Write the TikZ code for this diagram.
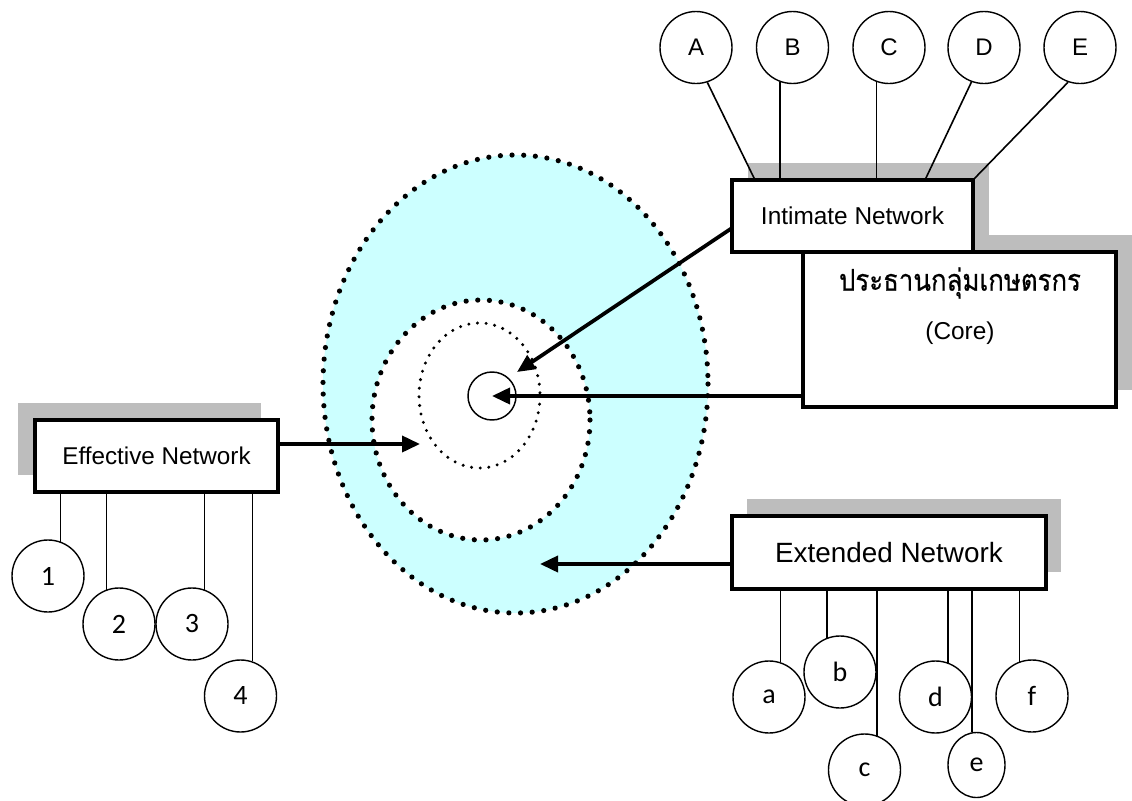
\documentclass[tikz,border=0pt]{standalone}
\usepackage{fontspec}
\setmainfont{Liberation Sans}
\newfontfamily\thaifont[Script=Thai, FakeStretch=0.86, FakeBold=0.5]{Loma}
\newfontfamily\calfont{Carlito}
\usetikzlibrary{calc,arrows.meta,shapes.geometric,backgrounds}
\definecolor{ringfill}{HTML}{CCFFFF}
\definecolor{shadowgray}{gray}{0.74}
\begin{document}
\begin{tikzpicture}[x=0.75pt,y=-0.75pt,
  box/.style={draw, line width=2.6pt, fill=white, inner sep=0pt, outer sep=0pt},
  shadowfill/.style={fill=shadowgray},
  lettercirc/.style={draw, circle, line width=1.05pt, minimum size=54pt, inner sep=0pt, font=\fontsize{18}{20}\selectfont},
  numcirc/.style={lettercirc, font=\calfont\fontsize{21}{24}\selectfont},
  link/.style={line width=1.2pt},
  arr/.style={line width=2.8pt, -{Triangle[length=13.5pt,width=12pt]}},
  dotring/.style={line width=3.9pt, line cap=round, dash pattern=on 0pt off 8.75pt},
  finedots/.style={line width=2.5pt, line cap=round, dash pattern=on 0pt off 6.5pt}]
\useasboundingbox (0,0) rectangle (1132,800);

% boxes
\node[box, minimum width=234.75pt, minimum height=116.25pt] (core) at (959.5,329.5) {};
\node[box, minimum width=180.75pt, minimum height=54pt, font=\fontsize{18.3}{20}\selectfont] (int) at (852.5,216) {Intimate Network};
\node[box, minimum width=182.25pt, minimum height=54pt, font=\fontsize{18.2}{20}\selectfont] (eff) at (156.5,456) {Effective Network};
\node[box, minimum width=235.5pt, minimum height=54.75pt, font=\fontsize{20.9}{23}\selectfont] (ext) at (889,552.5) {Extended Network};
\node[font=\thaifont\fontsize{22.5}{24}\selectfont] (coreth) at (960,283) {ประธานกลุ่มเกษตรกร};
\node[font=\fontsize{18.3}{20}\selectfont] (corelbl) at (960,333) {(Core)};

\begin{scope}[on background layer]
  \fill[shadowfill] ($(int.north west)+(16,-17)$) rectangle ($(int.south east)+(16,-17)$);
  \fill[shadowfill] ($(core.north west)+(17,-17)$) rectangle ($(core.south east)+(17,-17)$);
  \fill[shadowfill] ($(eff.north west)+(-17,-17)$) rectangle ($(eff.south east)+(-17,-17)$);
  \fill[shadowfill] ($(ext.north west)+(15,-17)$) rectangle ($(ext.south east)+(15,-17)$);
  % rings
  \fill[ringfill] (515.5,384) ellipse [x radius=192.5, y radius=229];
  \fill[white] (481,420) ellipse [x radius=109, y radius=120];
  \draw[dotring] (515.5,384) ellipse [x radius=192.5, y radius=229];
  \draw[dotring] (481,420) ellipse [x radius=109, y radius=120];
  \draw[finedots] (479.5,395.5) ellipse [x radius=60.5, y radius=72.5];
\end{scope}

% core circle
\node[draw, circle, minimum size=36pt, inner sep=0pt, line width=1.1pt] (cc) at (492,396) {};

% top circles
\node[lettercirc] (A) at (696,47.5) {A};
\node[lettercirc] (B) at (792.5,47.5) {B};
\node[lettercirc] (C) at (889,47.5) {C};
\node[lettercirc] (D) at (984,47.5) {D};
\node[lettercirc] (E) at (1080,47.5) {E};
\draw[link] (A.288) -- ($(int.north west)+(23,0)$);
\draw[link] (B.250) -- (B.250 |- int.north);
\draw[link] (C.250) -- (C.250 |- int.north);
\draw[link] (D.250) -- ($(int.north west)+(193,0)$);
\draw[link] (E.251) -- (int.north east);

% effective circles
\node[numcirc] (n1) at (48,576) {1};
\node[numcirc] (n2) at (119,624) {2};
\node[numcirc] (n3) at (192,624) {3};
\node[numcirc] (n4) at (240.5,696) {4};
\draw[link] (n1.70 |- eff.south) -- (n1.70);
\draw[link] (n2.110 |- eff.south) -- (n2.110);
\draw[link] (n3.70 |- eff.south) -- (n3.70);
\draw[link] (n4.71 |- eff.south) -- (n4.71);

% extended circles
\node[numcirc] (la) at (769,697) {a};
\node[numcirc] (lb) at (840,672) {b};
\node[numcirc] (lc) at (864.5,770) {c};
\node[numcirc] (ld) at (935.5,697) {d};
\node[draw, ellipse, line width=1.05pt, minimum width=42.75pt, minimum height=48.75pt, inner sep=0pt, font=\calfont\fontsize{21}{24}\selectfont] (le) at (976.5,765) {e};
\node[numcirc] (lf) at (1032,696) {f};
\draw[link] (la.72 |- ext.south) -- (la.72);
\draw[link] (lb.111 |- ext.south) -- (lb.111);
\draw[link] (lc.70 |- ext.south) -- (lc.70);
\draw[link] (ld.70 |- ext.south) -- (ld.70);
\draw[link] (le.98 |- ext.south) -- (le.98);
\draw[link] (lf.110 |- ext.south) -- (lf.110);

% arrows
\coordinate (tInt) at (517,372);
\coordinate (tEff) at (420,444);
\coordinate (tExt) at (540,564);
\draw[arr] ($(int.south west)+(0,-24)$) -- (tInt);
\draw[arr] ($(core.south west)+(0,-11)$) -- (cc.center);
\draw[arr] ($(eff.north east)+(0,24)$) -- (tEff);
\draw[arr] ($(ext.north west)+(0,48)$) -- (tExt);
\end{tikzpicture}
\end{document}
